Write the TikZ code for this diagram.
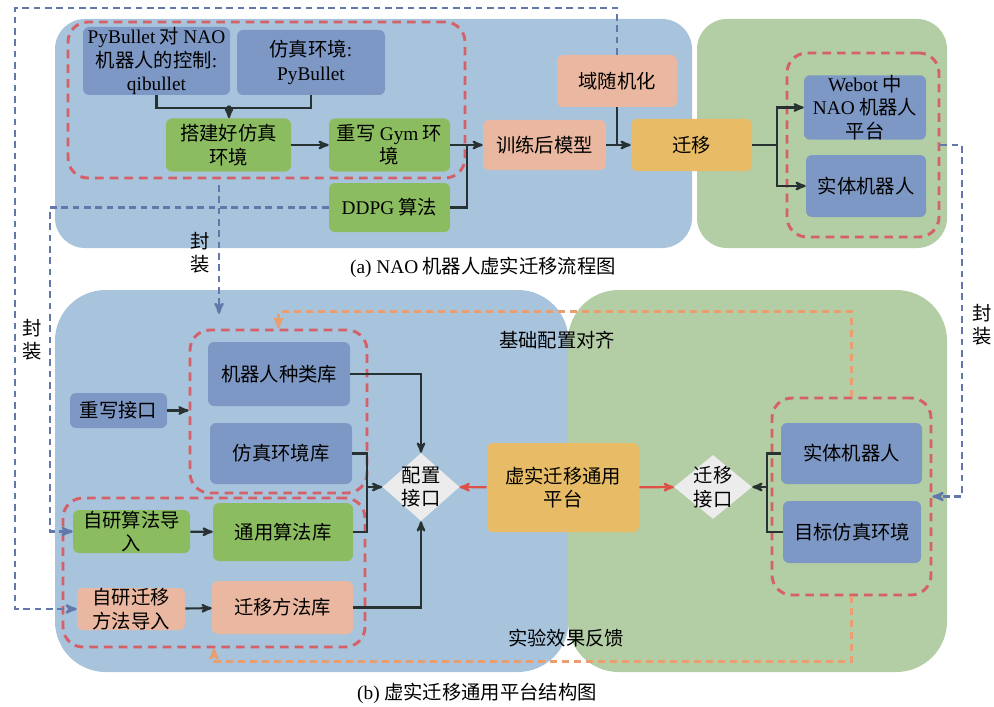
\documentclass[tikz,border=0pt]{standalone}
\usepackage{fontspec}
\setmainfont{Noto Sans CJK SC}
\newfontfamily\en{Liberation Serif}
\usetikzlibrary{arrows,shapes.geometric}

\definecolor{panelblue}{RGB}{168,196,221}
\definecolor{panelgreen}{RGB}{179,205,164}
\definecolor{nodeblue}{RGB}{126,152,197}
\definecolor{nodegreen}{RGB}{139,189,96}
\definecolor{nodesalmon}{RGB}{234,184,160}
\definecolor{nodegold}{RGB}{232,188,102}
\definecolor{diagrey}{RGB}{236,236,236}
\definecolor{grpred}{RGB}{214,96,104}
\definecolor{wrapblue}{RGB}{98,120,170}
\definecolor{feedorange}{RGB}{232,158,110}
\definecolor{linedark}{RGB}{40,50,50}
\definecolor{arrred}{RGB}{222,80,70}

\newdimen\pu \pu=0.75pt

\begin{document}
\begin{tikzpicture}[x=0.75pt,y=-0.75pt,>=stealth',
	font=\fontsize{14.5}{17.5}\selectfont,
	box node/.style={rounded corners=4.5pt,inner sep=0pt,align=center},
	blue node/.style={box node,fill=nodeblue},
	green node/.style={box node,fill=nodegreen},
	salmon node/.style={box node,fill=nodesalmon},
	gold node/.style={box node,fill=nodegold},
	dia node/.style={diamond,fill=diagrey,inner sep=0pt},
	group/.style={draw=grpred,line width=2.2pt,dash pattern=on 6.5pt off 4.5pt,rounded corners=15pt,inner sep=0pt},
	link/.style={draw=linedark,line width=1.6pt},
	red link/.style={draw=arrred,line width=1.6pt},
	wrap line/.style={->,draw=wrapblue,line width=1.8pt,dash pattern=on 5pt off 3.5pt},
	feed line/.style={->,draw=feedorange,line width=1.8pt,dash pattern=on 5pt off 4pt},
	note/.style={align=center}]
	\useasboundingbox (0,0) rectangle (994,706);
	
	% panels
	\fill[panelblue,rounded corners=22.5pt] (55,19) rectangle (692,248);
	\fill[panelgreen,rounded corners=22.5pt] (697,19) rectangle (947,248);
	\fill[panelblue,rounded corners=38pt] (55,290) rectangle (568.5,672);
	\fill[panelgreen,rounded corners=38pt] (568,290) rectangle (947,672);
	
	% (a)
	\node[group,minimum width=397\pu,minimum height=156\pu] (grpA) at (266.5,100) {};
	\node[group,minimum width=152\pu,minimum height=184\pu] (grpW) at (863,145) {};
	\node[blue node,minimum width=147\pu,minimum height=68\pu] (qib) at (156.5,61) {{\en PyBullet} 对 {\en NAO}\\机器人的控制{\en :}\\{\en qibullet}};
	\node[blue node,minimum width=148\pu,minimum height=65\pu] (pyb) at (311,62.5) {仿真环境{\en :}\\{\en PyBullet}};
	\node[green node,minimum width=125\pu,minimum height=53\pu] (build) at (228.5,145) {搭建好仿真\\环境};
	\node[green node,minimum width=121\pu,minimum height=53\pu] (gym) at (389.5,145) {重写 {\en Gym} 环\\境};
	\node[green node,minimum width=121\pu,minimum height=49\pu] (ddpg) at (389.5,207.5) {{\en DDPG} 算法};
	\node[salmon node,minimum width=123\pu,minimum height=50\pu] (model) at (544.5,145) {训练后模型};
	\node[salmon node,minimum width=120\pu,minimum height=52\pu] (rand) at (617,81) {域随机化};
	\node[gold node,minimum width=121\pu,minimum height=52\pu] (trans) at (691.5,145) {迁移};
	\node[blue node,minimum width=122\pu,minimum height=61\pu] (webot) at (865,107.5) {{\en Webot} 中\\{\en NAO} 机器人\\平台};
	\node[blue node,minimum width=120\pu,minimum height=62\pu] (realA) at (866,186) {实体机器人};
	\node (capA) at (483,267) {{\en (a) NAO} 机器人虚实迁移流程图};
	
	\coordinate (jq) at (229,108);
	\coordinate (jd) at (467,145);
	\coordinate (jt) at (777,145);
	\draw[link] (qib.south) |- (jq) -| (pyb.south);
	\fill[linedark] (jq) circle (2pt);
	\draw[link,->] (jq) -- (jq |- build.north);
	\draw[link,->] (build) -- (gym);
	\draw[link,->] (gym) -- (model);
	\draw[link] (ddpg) -| (jd);
	\draw[link,->] (model) -- (trans);
	\draw[link] (rand) -- (rand |- trans.west);
	\draw[link] (trans) -- (jt);
	\draw[link,->] (jt) |- (webot);
	\draw[link,->] (jt) |- (realA);
	
	% (b)
	\node[group,minimum width=177\pu,minimum height=163\pu] (grpB) at (278.5,411.5) {};
	\node[group,minimum width=302\pu,minimum height=149\pu] (grpC) at (214,572.5) {};
	\node[group,minimum width=159\pu,minimum height=197\pu] (grpD) at (851.5,496.5) {};
	\node[blue node,minimum width=142\pu,minimum height=64\pu] (robotlib) at (279,374) {机器人种类库};
	\node[blue node,minimum width=142\pu,minimum height=61\pu] (simlib) at (281,453.5) {仿真环境库};
	\node[blue node,minimum width=97\pu,minimum height=35\pu] (rewrite) at (118.5,410.5) {重写接口};
	\node[green node,minimum width=117\pu,minimum height=43\pu] (algimp) at (131.5,531.5) {自研算法导\\入};
	\node[green node,minimum width=140\pu,minimum height=58\pu] (alglib) at (283,532) {通用算法库};
	\node[salmon node,minimum width=108\pu,minimum height=42\pu] (migimp) at (131,609) {自研迁移\\方法导入};
	\node[salmon node,minimum width=141\pu,minimum height=53\pu] (miglib) at (282.5,607.5) {迁移方法库};
	\node[dia node,minimum width=77\pu,minimum height=68\pu,label={[align=center]center:配置\\接口}] (cfg) at (421,487) {};
	\node[gold node,minimum width=152\pu,minimum height=89\pu] (plat) at (563,487.5) {虚实迁移通用\\平台};
	\node[dia node,minimum width=78\pu,minimum height=64\pu,label={[align=center]center:迁移\\接口}] (migif) at (713,487) {};
	\node[blue node,minimum width=141\pu,minimum height=61\pu] (realB) at (851.5,453.5) {实体机器人};
	\node[blue node,minimum width=138\pu,minimum height=62\pu] (target) at (852,532) {目标仿真环境};
	\node (align) at (557,340) {基础配置对齐};
	\node (feedback) at (566,638) {实验效果反馈};
	\node (capB) at (477,693) {{\en (b)} 虚实迁移通用平台结构图};
	
	\coordinate (jc) at (367,487);
	\coordinate (jr) at (767,487);
	\draw[link,->] (rewrite) -- (rewrite -| grpB.west);
	\draw[link,->] (robotlib) -| (cfg);
	\draw[link] (simlib) -| (jc);
	\draw[link] (alglib) -| (jc);
	\draw[link,->] (jc) -- (cfg);
	\draw[link,->] (miglib) -| (cfg);
	\draw[link,->] (algimp) -- (alglib);
	\draw[link,->] (migimp) -- (miglib);
	\draw[red link,->] (plat) -- (cfg);
	\draw[red link,->] (plat) -- (migif);
	\draw[link] (realB) -| (jr) |- (target);
	\draw[link,->] (jr) -- (migif);
	
	% feedback loops
	\draw[feed line] (grpD.north) -- ++(0,-85) -| (grpB.north);
	\draw[feed line] (grpD.south) -- ++(0,65) -| (grpC.south);
	
	% encapsulation
	\coordinate (w1) at (15,8);
	\coordinate (w2) at (50,207.5);
	\coordinate (w3) at (219,185);
	\coordinate (w4) at (962,145);
	\draw[wrap line] (rand) |- (w1) |- (migimp);
	\draw[wrap line] (ddpg) -- (w2) |- (algimp);
	\draw[wrap line,shorten >=11pt] (w3) -- (w3 |- grpB.north);
	\draw[wrap line] (grpW) -- (w4) |- (grpD);
	\node[note] (wrapL) at (32,340) {封\\装};
	\node[note] (wrapM) at (200,253) {封\\装};
	\node[note] (wrapR) at (982,325) {封\\装};
\end{tikzpicture}
\end{document}
